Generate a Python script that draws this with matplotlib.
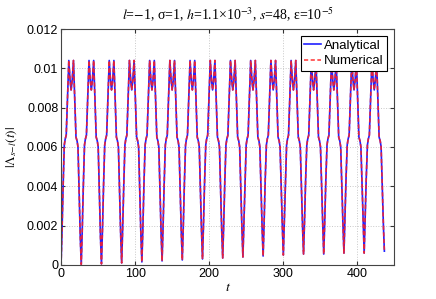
# Import modules
import matplotlib
matplotlib.use("Agg")
import matplotlib.pyplot as plt
import matplotlib.ticker as ticker

# Sample times, one row per oscillation cycle
t_rows = [
    [0, 1.3, 2.8, 4.4, 5.6, 7.0, 8.8, 10.5, 12.2, 13.6, 15.1, 16.8, 18.5, 20.2, 21.7, 22.9, 24.5, 26.0],
    [27.3, 28.6, 30.1, 31.7, 32.9, 34.3, 36.1, 37.8, 39.5, 40.9, 42.4, 44.1, 45.8, 47.5, 49.0, 50.2, 51.8, 53.3],
    [54.6, 55.9, 57.4, 59.0, 60.2, 61.6, 63.4, 65.1, 66.8, 68.2, 69.7, 71.4, 73.1, 74.8, 76.3, 77.5, 79.1, 80.6],
    [81.9, 83.2, 84.7, 86.3, 87.5, 88.9, 90.7, 92.4, 94.1, 95.5, 97.0, 98.7, 100.4, 102.1, 103.6, 104.8, 106.4, 107.9],
    [109.2, 110.5, 112.0, 113.6, 114.8, 116.2, 118.0, 119.7, 121.4, 122.8, 124.3, 126.0, 127.7, 129.4, 130.9, 132.1, 133.7, 135.2],
    [136.5, 137.8, 139.3, 140.9, 142.1, 143.5, 145.3, 147.0, 148.7, 150.1, 151.6, 153.3, 155.0, 156.7, 158.2, 159.4, 161.0, 162.5],
    [163.8, 165.1, 166.6, 168.2, 169.4, 170.8, 172.6, 174.3, 176.0, 177.4, 178.9, 180.6, 182.3, 184.0, 185.5, 186.7, 188.3, 189.8],
    [191.1, 192.4, 193.9, 195.5, 196.7, 198.1, 199.9, 201.6, 203.3, 204.7, 206.2, 207.9, 209.6, 211.3, 212.8, 214.0, 215.6, 217.1],
    [218.4, 219.7, 221.2, 222.8, 224.0, 225.4, 227.2, 228.9, 230.6, 232.0, 233.5, 235.2, 236.9, 238.6, 240.1, 241.3, 242.9, 244.4],
    [245.7, 247.0, 248.5, 250.1, 251.3, 252.7, 254.5, 256.2, 257.9, 259.3, 260.8, 262.5, 264.2, 265.9, 267.4, 268.6, 270.2, 271.7],
    [273.0, 274.3, 275.8, 277.4, 278.6, 280.0, 281.8, 283.5, 285.2, 286.6, 288.1, 289.8, 291.5, 293.2, 294.7, 295.9, 297.5, 299.0],
    [300.3, 301.6, 303.1, 304.7, 305.9, 307.3, 309.1, 310.8, 312.5, 313.9, 315.4, 317.1, 318.8, 320.5, 322.0, 323.2, 324.8, 326.3],
    [327.6, 328.9, 330.4, 332.0, 333.2, 334.6, 336.4, 338.1, 339.8, 341.2, 342.7, 344.4, 346.1, 347.8, 349.3, 350.5, 352.1, 353.6],
    [354.9, 356.2, 357.7, 359.3, 360.5, 361.9, 363.7, 365.4, 367.1, 368.5, 370.0, 371.7, 373.4, 375.1, 376.6, 377.8, 379.4, 380.9],
    [382.2, 383.5, 385.0, 386.6, 387.8, 389.2, 391.0, 392.7, 394.4, 395.8, 397.3, 399.0, 400.7, 402.4, 403.9, 405.1, 406.7, 408.2],
    [409.5, 410.8, 412.3, 413.9, 415.1, 416.5, 418.3, 420.0, 421.7, 423.1, 424.6, 426.3, 428.0, 429.7, 431.2, 432.4, 434.0, 435.5, 436.8],
]

# |Lambda_{s-l}(t)| values, same layout as t_rows
y_rows = [
    [0.0, .0017, .0040, .0061, .0064, .0066, .0085, .0104, .0094, .0089, .0094, .0104, .0085, .0065, .0063, .0060, .0036, .0014],
    [.00003, .0017, .0040, .0061, .0064, .0066, .0085, .0104, .0094, .0089, .0094, .0104, .0085, .0065, .0063, .0060, .0036, .0014],
    [.00005, .0017, .0040, .0061, .0064, .0066, .0085, .0104, .0094, .0089, .0094, .0104, .0085, .0065, .0063, .0060, .0036, .0015],
    [.0001, .0018, .0040, .0061, .0064, .0066, .0085, .0104, .0094, .0089, .0094, .0104, .0085, .0065, .0063, .0060, .0036, .0015],
    [.00015, .0018, .0041, .0061, .0064, .0066, .0085, .0104, .0094, .0089, .0094, .0104, .0085, .0065, .0063, .0060, .0037, .0016],
    [.0002, .0019, .0041, .0061, .0064, .0066, .0085, .0104, .0094, .0089, .0094, .0104, .0085, .0065, .0063, .0060, .0037, .0016],
    [.00025, .0019, .0041, .0061, .0064, .0066, .0085, .0104, .0094, .0089, .0094, .0104, .0085, .0065, .0063, .0060, .0037, .0017],
    [.0003, .0020, .0042, .0061, .0064, .0066, .0085, .0104, .0094, .0089, .0094, .0104, .0085, .0065, .0063, .0060, .0038, .0017],
    [.00035, .0020, .0042, .0061, .0064, .0066, .0085, .0104, .0094, .0089, .0094, .0104, .0085, .0065, .0063, .0060, .0038, .0018],
    [.0004, .0021, .0042, .0061, .0064, .0066, .0085, .0104, .0094, .0089, .0094, .0104, .0085, .0065, .0063, .0060, .0038, .0018],
    [.00045, .0021, .0043, .0061, .0064, .0066, .0085, .0104, .0094, .0089, .0094, .0104, .0085, .0065, .0063, .0060, .0039, .0019],
    [.0005, .0022, .0043, .0061, .0064, .0066, .0085, .0104, .0094, .0089, .0094, .0104, .0085, .0065, .0063, .0060, .0039, .0019],
    [.00055, .0022, .0043, .0061, .0064, .0066, .0085, .0104, .0094, .0089, .0094, .0104, .0085, .0065, .0063, .0060, .0039, .0020],
    [.00055, .0022, .0043, .0061, .0064, .0066, .0085, .0104, .0094, .0089, .0094, .0104, .0085, .0065, .0063, .0060, .0039, .0020],
    [.0006, .0023, .0044, .0061, .0064, .0066, .0085, .0104, .0094, .0089, .0094, .0104, .0085, .0065, .0063, .0060, .0040, .0020],
    [.0006, .0023, .0044, .0061, .0064, .0066, .0085, .0104, .0094, .0089, .0094, .0104, .0085, .0065, .0063, .0060, .0040, .0020, .0007],
]

x_ticks = [0, 100, 200, 300, 400]
y_ticks = [0, 0.002, 0.004, 0.006, 0.008, 0.010, 0.012]

t = [v for row in t_rows for v in row]
y_analytical = [v for row in y_rows for v in row]
y_numerical = [v for row in y_rows for v in row]

plt.rcParams["mathtext.fontset"] = "stix"
sans = "Liberation Sans"
serif = "Liberation Serif"

fig = plt.figure(figsize=(4.36, 2.99), dpi=100)
ax = fig.add_axes([0.140, 0.114, 0.764, 0.789])

ax.plot(t, y_analytical, color="#2020ff", lw=1.2, label="Analytical")
ax.plot(t, y_numerical, color="#ff2020", lw=1.2, ls=(0, (2.5, 1.5)), alpha=0.85,
        label="Numerical")

ax.set_xlim(0, 450)
ax.set_ylim(0, 0.012)
ax.set_xticks(x_ticks)
ax.set_yticks(y_ticks)
ax.yaxis.set_major_formatter(ticker.FuncFormatter(lambda v, p: "%g" % round(v, 4)))
ax.tick_params(direction="in", length=3, labelsize=9, pad=2, color="#333333",
               top=True, right=True)
for lab in ax.get_xticklabels() + ax.get_yticklabels():
    lab.set_family(sans)
ax.grid(True, ls=":", color="#c8c8c8", lw=0.7)
for sp in ax.spines.values():
    sp.set_color("#444444")
    sp.set_linewidth(0.8)

ax.set_xlabel("$t$", fontsize=10, labelpad=0)
ax.set_ylabel(r"$|\Lambda_{s\!-\!l}(t)|$", fontsize=9.5, labelpad=6)
ax.set_title(r"$l$=$-$1, σ=1, $h$=1.1×10$^{-3}$, $s$=48, ε=10$^{-5}$",
             family=serif, fontsize=10, pad=6)

leg = ax.legend(loc="upper right", prop={"family": sans, "size": 9.5},
                fancybox=False, edgecolor="black", framealpha=1,
                handlelength=1.3, handletextpad=0.2, borderpad=0.25,
                labelspacing=0.25, borderaxespad=0.55)
leg.get_frame().set_linewidth(0.8)

fig.savefig("out.png", dpi=100)
